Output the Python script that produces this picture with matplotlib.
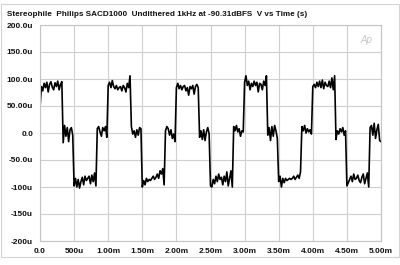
import numpy as np
import matplotlib
matplotlib.use("Agg")
import matplotlib.pyplot as plt
from matplotlib.patches import Rectangle

# ---------------------------------------------------------------------------
# Data: 1kHz undithered tone at -90.31dBFS (uV),
# one sample every 20us from 0 to 5ms
# ---------------------------------------------------------------------------
dt_ms = 0.02

period_0 = [46, 86, 78, 92, 84, 94, 76, 90, 95, 85, 80, 93, 86, 96, 80, 90, 95,
            -18, 14, -6, 10, -16, 6, 10, -4,
            -98, -84, -100, -86, -102, -90, -82, -96, -80, -88, -84, -80, -94, -78, -90, -74, -98,
            8, 12, 2, -6, 10, 4, 12, -8]
period_1 = [88, 94, 84, 97, 86, 82, 88, 80, 84, 86, 78, 88, 84, 76, 92, 84, 106,
            12, -2, 4, -8, 6, -4, 10, 8,
            -100, -88, -96, -84, -90, -86, -88, -84, -80, -86, -82, -76, -84, -70, -76, -66, -96,
            4, 12, 8, -4, 6, -10, -2, -16]
period_2 = [84, 92, 82, 88, 80, 86, 88, 78, 84, 70, 86, 82, 88, 72, 86, 90, 84,
            -8, 4, -12, 6, -14, 2, 10, -2,
            -98, -100, -86, -94, -80, -90, -76, -86, -82, -96, -80, -90, -72, -98, -84, -70, -100,
            12, 4, 14, 2, 8, -6, 4, 2]
period_3 = [94, 106, 88, 96, 80, 92, 86, 96, 88, 94, 76, 92, 90, 80, 96, 88, 106,
            -4, 10, -14, 12, -6, 14, 4, -10,
            -90, -80, -100, -84, -92, -84, -88, -86, -84, -86, -84, -80, -86, -82, -78, -84, -72,
            12, 4, 14, 0, 8, 2, 6, -2]
period_4 = [86, 90, 84, 94, 86, 96, 84, 98, 82, 94, 88, 86, 96, 84, 102, 80, 106,
            -12, 4, -2, 8, 2, 10, -4, 4,
            -98, -92, -86, -80, -90, -76, -86, -84, -78, -88, -92, -82, -76, -94, -84, -74, -100,
            10, 14, -4, 18, -10, 6, 16, -14, -16]

volts_uv = np.array(period_0 + period_1 + period_2 + period_3 + period_4, dtype=float)
time_ms = np.arange(len(volts_uv)) * dt_ms

y_ticks = [200, 150, 100, 50, 0, -50, -100, -150, -200]
y_labels = ["200.0u", "150.0u", "100.0u", "50.00u", "0.0", "-50.0u", "-100u", "-150u", "-200u"]
x_ticks = [0, 0.5, 1.0, 1.5, 2.0, 2.5, 3.0, 3.5, 4.0, 4.5, 5.0]
x_labels = ["0.0", "500u", "1.00m", "1.50m", "2.00m", "2.50m", "3.00m",
            "3.50m", "4.00m", "4.50m", "5.00m"]

title = "Stereophile  Philips SACD1000  Undithered 1kHz at -90.31dBFS  V vs Time (s)"

# ---------------------------------------------------------------------------
# Plot
# ---------------------------------------------------------------------------
plt.rcParams["font.family"] = ["Liberation Sans", "DejaVu Sans"]

W, H = 400, 265
fig = plt.figure(figsize=(W / 100, H / 100), dpi=100)
fig.patch.set_facecolor("white")

# thin outer frame
fig.add_artist(Rectangle((1 / W, 1 - 257 / H), 397.5 / W, 253 / H,
                         transform=fig.transFigure, fill=False,
                         edgecolor="#d4d4d4", linewidth=0.8))

ax = fig.add_axes([40 / W, 1 - 241 / H, 341 / W, 216 / H])
ax.plot(time_ms, volts_uv, color="black", linewidth=1.2)

ax.set_xlim(0, 5.0)
ax.set_ylim(-200, 200)
ax.set_xticks(x_ticks)
ax.set_xticklabels(x_labels)
ax.set_yticks(y_ticks)
ax.set_yticklabels(y_labels)
ax.grid(True, color="#cfcfcf", linewidth=0.8)
ax.set_axisbelow(True)
for s in ax.spines.values():
    s.set_color("#c4c4c4")
    s.set_linewidth(0.8)
ax.tick_params(length=0, labelsize=6, pad=5)
for lbl in ax.get_xticklabels() + ax.get_yticklabels():
    lbl.set_fontweight("bold")
    lbl.set_color("#111111")

fig.text(7 / W, 1 - 15 / H, title, fontsize=5.9, fontweight="bold",
         color="#111111", ha="left", va="center")
ax.text(0.975, 0.955, "Ap", transform=ax.transAxes, fontsize=7, style="italic",
        color="#c8c8c8", ha="right", va="top")

fig.savefig("out.png", dpi=100)
